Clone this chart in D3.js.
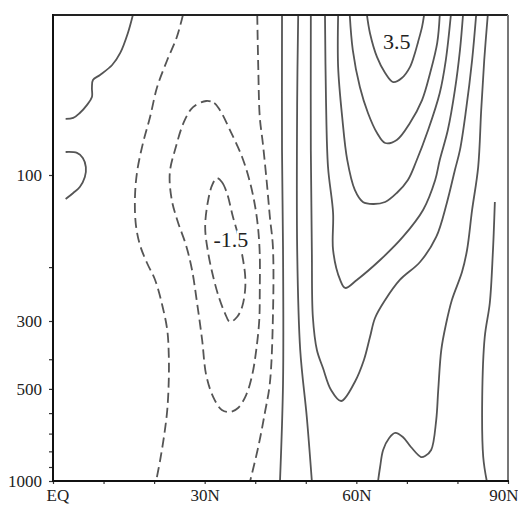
<!DOCTYPE html>
<html>
<head>
<meta charset="utf-8">
<script src="https://cdn.jsdelivr.net/npm/d3@7"></script>
<style>
  body { margin: 0; background: #fff; }
  svg { display: block; }
  text { font-family: "Liberation Serif", "Times New Roman", Times, serif; }
</style>
</head>
<body>
<svg id="chart" width="518" height="507"></svg>
<script>
// contour lines, each point is [latitude (deg N), pressure (hPa)]
const eqTop = [[15.8,30],[14.8,34.4],[13.3,39.9],[11.7,43.7],[9.3,47.1],[7.9,48.9],[7.7,51.9],[7.7,55.6],[6.7,59.1],[5.3,62.7],[4.0,65.1],[2.5,65.6]];
const eqArc = [[2.5,84.1],[4.75,84.7],[5.9,88],[6.5,94.2],[6.3,101.5],[5.3,109.4],[4.0,114.5],[2.5,119.8]];
const negHalfWest = [[25.7,30],[24.5,35.4],[22.6,42.1],[20.6,51.6],[19.2,64.6],[17.8,78.6],[16.6,98.5],[16.2,120.7],[16.4,145.7],[17.2,169.3],[18.6,193.9],[20.2,220.3],[21.6,266],[22.6,321],[22.9,387.5],[22.9,467.6],[22.6,586],[22.0,707],[21.2,854],[20.4,1000]];
const negOne = [[30.3,57.3],[31.9,58.2],[33.0,61.3],[35.0,71.3],[37.4,87.3],[39.0,106.2],[40.0,127.2],[40.6,151.3],[40.9,182.6],[40.9,237.6],[40.8,297.8],[40.2,373.2],[39.4,450.4],[38.2,523.7],[36.6,577.4],[35.0,595.1],[33.4,586.2],[31.7,531.6],[30.3,450.4],[29.5,346.1],[28.5,262],[27.5,204.4],[26.3,169.3],[24.7,142.4],[23.5,120.7],[23.1,98.5],[24.3,81.0],[25.9,67.1],[27.7,60.0]];
const negOneHalf = [[32.4,102.3],[33.4,105.4],[34.4,114.5],[35.6,137.2],[36.6,157.1],[37.6,189.6],[38.0,212.2],[38.0,237.6],[37.4,270],[36.4,291.1],[35.0,302.3],[34.0,282.5],[32.8,250.5],[31.7,215.4],[30.7,179.9],[30.1,147.9],[30.7,120.7],[31.5,107.8]];
const negHalfEast = [[40.4,30],[40.6,44.4],[40.9,64.6],[41.5,78.6],[42.3,106.2],[42.9,137.2],[43.5,171.9],[43.5,291.1],[42.9,478.3],[41.9,599.5],[40.6,774.3],[39.0,1000]];
const posHalfWest = [[45.3,30],[45.3,82.8],[45.5,175.8],[45.5,478.3],[44.9,1000]];
const posOneWest = [[48.5,30],[48.3,56.9],[48.3,175.8],[48.9,373.2],[50.2,617.9],[51.2,1000]];
const posOneHalf = [[83.7,30],[82.9,42.1],[81.7,61.3],[80.5,82.8],[79.5,96.3],[77.9,123.4],[75.8,159.4],[72.6,192.4],[68.6,220.3],[65.7,256.2],[63.7,293.3],[62.7,338.4],[61.5,402.4],[59.7,474.7],[57.0,547.8],[55.0,504.2],[53.4,427.3],[52.2,373.2],[51.4,291.1],[51.2,175.8],[51.0,82.8],[51.0,30]];
const posTwo = [[81.1,30],[80.5,39.05],[79.5,52.7],[78.1,71.3],[76.5,89.3],[75.6,103.8],[73.2,130.1],[69.2,159.4],[64.7,189.6],[60.1,220.3],[57.8,234],[56.8,220.3],[55.4,175.8],[55.4,133.1],[54.4,94.15],[54.0,56.9],[53.8,30]];
const posTwoHalf = [[56.4,30],[56.4,44.4],[57.2,64.6],[58.2,89.3],[59.7,111.9],[61.3,122.5],[63.3,124.4],[65.7,122.5],[68.0,114.5],[70.2,103.8],[71.8,90.7],[74.2,71.3],[76.5,53.95],[77.7,42.1],[78.7,30]];
const posThree = [[58.7,30],[59.3,39.05],[60.7,51.6],[62.3,62.7],[64.1,72.9],[65.7,78.6],[68.0,76.8],[70.6,67.6],[73.0,56.9],[74.6,46.4],[76.0,37.0],[76.5,30]];
const posThreeHalf = [[62.1,30],[62.7,34.4],[64.1,41.2],[65.7,46.4],[67.3,49.7],[69.0,48.2],[70.6,44.4],[71.6,39.9],[72.2,36.8],[73.0,32.8],[73.4,30]];
const posOneEast = [[86.0,30],[85.3,42.1],[84.7,61.3],[84.1,94.2],[82.9,130.1],[81.9,175.8],[80.9,207.5],[78.9,256.2],[77.7,309.2],[76.8,373.2],[76.2,504.2],[75.8,632],[74.8,792],[73.6,828.6],[72.8,834.9],[70.8,774.3],[69.2,718.2],[67.7,696.7],[66.5,723.6],[65.3,792],[64.7,900],[64.3,1000]];
const posHalfEast = [[87.4,122.5],[87.2,151.3],[87.0,179.9],[86.4,262],[85.4,338.4],[84.9,531.6],[85.1,834.9],[85.8,1000]];

const contours = [
    { value: 0.5, closed: false, pts: eqTop },
    { value: 0.5, closed: false, pts: eqArc },
    { value: -0.5, closed: false, pts: negHalfWest },
    { value: -1.0, closed: true, pts: negOne },
    { value: -1.5, closed: true, pts: negOneHalf },
    { value: -0.5, closed: false, pts: negHalfEast },
    { value: 0.5, closed: false, pts: posHalfWest },
    { value: 1.0, closed: false, pts: posOneWest },
    { value: 1.5, closed: false, pts: posOneHalf },
    { value: 2.0, closed: false, pts: posTwo },
    { value: 2.5, closed: false, pts: posTwoHalf },
    { value: 3.0, closed: false, pts: posThree },
    { value: 3.5, closed: false, pts: posThreeHalf },
    { value: 1.0, closed: false, pts: posOneEast },
    { value: 0.5, closed: false, pts: posHalfEast }
];

// labelled contours
const labelLat = [68.0, 35.2];
const labelP = [36.5, 162];
const labelText = ["3.5", "-1.5"];

const latTicks = [0, 10, 20, 30, 40, 50, 60, 70, 80, 90];
const latLabelValues = [0, 30, 60, 90];
const latLabels = ["EQ", "30N", "60N", "90N"];
const pLabelTicks = [100, 300, 500, 1000];
const pMinorTicks = [200, 400, 600, 700, 800, 900];

let svg = d3.select("#chart");

let x = d3.scaleLinear().domain([0, 90]).range([53, 508]);
let y = d3.scaleLog().domain([1000, 30]).range([481, 15]);

svg.append("defs").append("clipPath")
    .attr("id", "plot-clip")
    .append("rect")
    .attr("x", 53).attr("y", 15)
    .attr("width", 455).attr("height", 466);

let openLine = d3.line()
    .x(d => x(d[0]))
    .y(d => y(d[1]))
    .curve(d3.curveCatmullRom.alpha(0.5));

let closedLine = d3.line()
    .x(d => x(d[0]))
    .y(d => y(d[1]))
    .curve(d3.curveCatmullRomClosed.alpha(0.5));

let g = svg.append("g").attr("clip-path", "url(#plot-clip)");

// contour lines, negatives dashed
g.selectAll(".contour")
    .data(contours)
    .enter()
    .append("path")
    .attr("class", "contour")
    .attr("d", d => d.closed ? closedLine(d.pts) : openLine(d.pts))
    .attr("fill", "none")
    .attr("stroke", "#555")
    .attr("stroke-width", 1.8)
    .attr("stroke-dasharray", d => d.value < 0 ? "10,5" : null);

// contour labels with a white halo to break the line
g.selectAll(".clabel")
    .data(labelText)
    .enter()
    .append("text")
    .attr("class", "clabel")
    .attr("x", (d, i) => x(labelLat[i]))
    .attr("y", (d, i) => y(labelP[i]))
    .attr("dy", "0.35em")
    .attr("text-anchor", "middle")
    .attr("font-size", 22)
    .attr("fill", "#222")
    .attr("stroke", "#fff")
    .attr("stroke-width", 5)
    .attr("paint-order", "stroke")
    .text(d => d);

// axes
let xAxis = d3.axisBottom(x)
    .tickValues(latTicks)
    .tickSize(3)
    .tickPadding(5)
    .tickFormat(d => {
        let i = latLabelValues.indexOf(d);
        return i >= 0 ? latLabels[i] : "";
    });

let yAxis = d3.axisLeft(y)
    .tickValues(pLabelTicks.concat(pMinorTicks))
    .tickSize(4)
    .tickPadding(7)
    .tickFormat(d => pLabelTicks.includes(d) ? d : "");

let gx = svg.append("g").attr("transform", "translate(0,481)").call(xAxis);
let gy = svg.append("g").attr("transform", "translate(53,0)").call(yAxis);

[gx, gy].forEach(a => {
    a.select(".domain").remove();
    a.selectAll("line").attr("stroke", "#333").attr("stroke-width", 1.2);
    a.selectAll("text")
        .attr("font-size", 17)
        .attr("fill", "#222");
});

// keep the end labels inside the page
gx.selectAll(".tick text")
    .filter(d => d === 0)
    .attr("text-anchor", "start")
    .attr("dx", -7);
gx.selectAll(".tick text")
    .filter(d => d === 90)
    .attr("text-anchor", "end")
    .attr("dx", 10);

// frame
svg.append("line").attr("x1", 53).attr("x2", 508).attr("y1", 15).attr("y2", 15)
    .attr("stroke", "#222").attr("stroke-width", 2);
svg.append("line").attr("x1", 508).attr("x2", 508).attr("y1", 15).attr("y2", 481)
    .attr("stroke", "#777").attr("stroke-width", 2);
svg.append("line").attr("x1", 53).attr("x2", 53).attr("y1", 14).attr("y2", 482)
    .attr("stroke", "#111").attr("stroke-width", 2);
svg.append("line").attr("x1", 52).attr("x2", 509).attr("y1", 481).attr("y2", 481)
    .attr("stroke", "#111").attr("stroke-width", 2);
</script>
</body>
</html>
